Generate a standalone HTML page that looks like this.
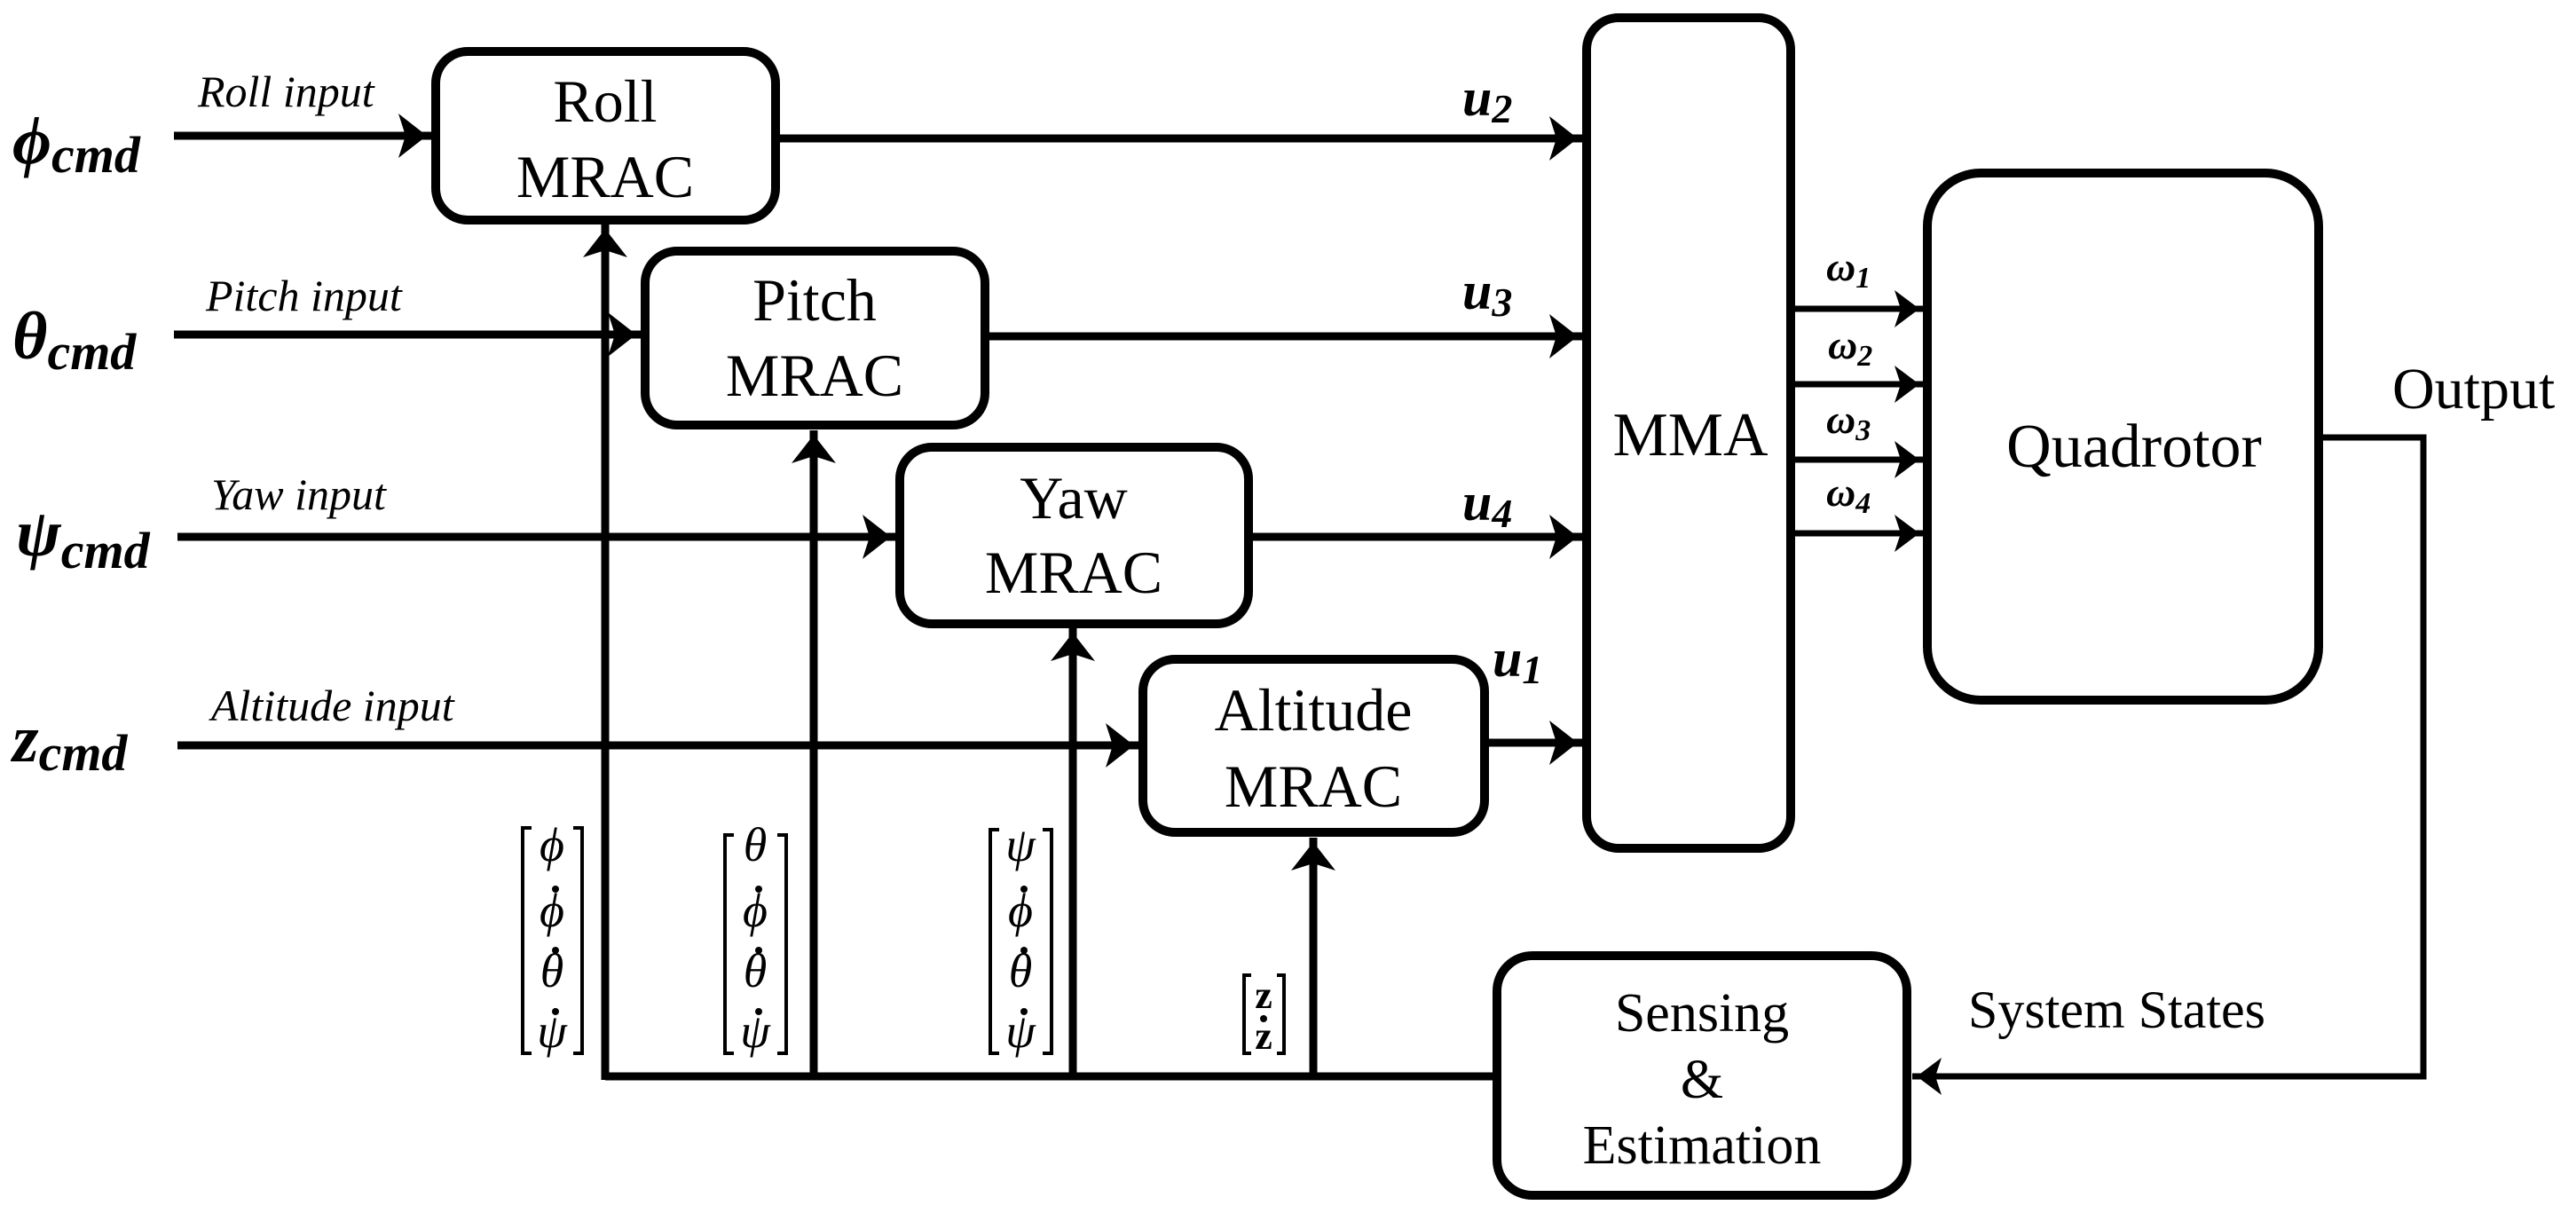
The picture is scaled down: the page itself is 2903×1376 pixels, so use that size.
<!DOCTYPE html>
<html><head><meta charset="utf-8"><style>
html,body{margin:0;padding:0;background:#fff;}
svg{display:block;}
</style></head><body>
<svg width="2903" height="1376" viewBox="0 0 2903 1376" xmlns="http://www.w3.org/2000/svg" font-family="'Liberation Serif','DejaVu Serif',serif">
<defs>
<marker id="a" markerWidth="10" markerHeight="10" refX="9" refY="5" orient="auto" markerUnits="userSpaceOnUse" viewBox="0 0 10 10" style="overflow:visible">
<path d="M-28,-20 L4,5 L-28,30 L-20,5 Z" fill="#000"/>
</marker>
<marker id="s" markerWidth="10" markerHeight="10" refX="9" refY="5" orient="auto" markerUnits="userSpaceOnUse" viewBox="0 0 10 10" style="overflow:visible">
<path d="M-24,-16 L4,5 L-24,26 L-17,5 Z" fill="#000"/>
</marker>
</defs>
<g fill="none" stroke="#000" stroke-width="10">
<rect x="491" y="58" width="383" height="190" rx="36"/>
<rect x="727" y="283" width="383" height="196" rx="36"/>
<rect x="1014" y="504" width="393" height="199" rx="36"/>
<rect x="1288" y="743" width="385" height="195" rx="36"/>
<rect x="1788" y="20" width="230" height="936" rx="36"/>
<rect x="2172" y="195" width="441" height="594" rx="60"/>
<rect x="1687" y="1077" width="462" height="270" rx="40"/>
</g>
<g fill="none" stroke="#000" stroke-width="9">
<line x1="196" y1="153" x2="486" y2="153" marker-end="url(#a)"/>
<line x1="196" y1="377" x2="722" y2="377" marker-end="url(#a)"/>
<line x1="200" y1="605" x2="1009" y2="605" marker-end="url(#a)"/>
<line x1="200" y1="840" x2="1283" y2="840" marker-end="url(#a)"/>
<line x1="874" y1="156" x2="1783" y2="156" marker-end="url(#a)"/>
<line x1="1110" y1="379" x2="1783" y2="379" marker-end="url(#a)"/>
<line x1="1407" y1="605" x2="1783" y2="605" marker-end="url(#a)"/>
<line x1="1673" y1="837" x2="1783" y2="837" marker-end="url(#a)"/>
<polyline points="682,1213 1687,1213"/>
<line x1="682" y1="1217" x2="682" y2="253" marker-end="url(#a)"/>
<line x1="917" y1="1213" x2="917" y2="485" marker-end="url(#a)"/>
<line x1="1209" y1="1213" x2="1209" y2="708" marker-end="url(#a)"/>
<line x1="1480" y1="1213" x2="1480" y2="944" marker-end="url(#a)"/>
</g>
<g fill="none" stroke="#000" stroke-width="7">
<line x1="2018" y1="348" x2="2168" y2="348" marker-end="url(#s)"/>
<line x1="2018" y1="433" x2="2168" y2="433" marker-end="url(#s)"/>
<line x1="2018" y1="518" x2="2168" y2="518" marker-end="url(#s)"/>
<line x1="2018" y1="601" x2="2168" y2="601" marker-end="url(#s)"/>
<polyline points="2613,493 2731,493 2731,1213 2155,1213" marker-end="url(#s)"/>
</g>
<g fill="#000" font-size="68" text-anchor="middle">
<text x="682" y="137">Roll</text><text x="682" y="222">MRAC</text>
<text x="918" y="361">Pitch</text><text x="918" y="446">MRAC</text>
<text x="1210" y="584">Yaw</text><text x="1210" y="668">MRAC</text>
<text x="1480" y="823">Altitude</text><text x="1480" y="909">MRAC</text>
<text x="1905" y="513" font-size="70">MMA</text>
<text x="2405" y="526" font-size="70">Quadrotor</text>
<text x="1918" y="1162" font-size="62">Sensing</text>
<text x="1918" y="1237" font-size="62">&amp;</text>
<text x="1918" y="1311" font-size="62">Estimation</text>
</g>
<g fill="#000">
<text x="2696" y="460" font-size="66">Output</text>
<text x="2218" y="1158" font-size="60">System States</text>
</g>
<g fill="#000" font-style="italic" font-size="50">
<text x="223" y="120">Roll input</text>
<text x="232" y="350">Pitch input</text>
<text x="238" y="574">Yaw input</text>
<text x="238" y="812">Altitude input</text>
</g>
<g fill="#000" font-style="italic" font-weight="bold">
<text x="14" y="184" font-size="76">ϕ<tspan font-size="58" dy="10">cmd</tspan></text>
<text x="14" y="404" font-size="76">θ<tspan font-size="58" dy="12">cmd</tspan></text>
<text x="18" y="626" font-size="76">ψ<tspan font-size="58" dy="14">cmd</tspan></text>
<text x="14" y="858" font-size="76">z<tspan font-size="58" dy="10">cmd</tspan></text>
<text x="1648" y="130" font-size="60">u<tspan font-size="46" dy="8">2</tspan></text>
<text x="1648" y="348" font-size="60">u<tspan font-size="46" dy="8">3</tspan></text>
<text x="1648" y="586" font-size="60">u<tspan font-size="46" dy="8">4</tspan></text>
<text x="1682" y="762" font-size="60">u<tspan font-size="46" dy="8">1</tspan></text>
<text x="2058" y="316" font-size="46">ω<tspan font-size="34" dy="8">1</tspan></text>
<text x="2060" y="404" font-size="46">ω<tspan font-size="34" dy="8">2</tspan></text>
<text x="2058" y="488" font-size="46">ω<tspan font-size="34" dy="8">3</tspan></text>
<text x="2058" y="570" font-size="46">ω<tspan font-size="34" dy="8">4</tspan></text>
</g>
<g fill="none" stroke="#000" stroke-width="4">
<path d="M599,933 H589 V1187 H599"/><path d="M646,933 H656 V1187 H646"/>
<path d="M827,941 H817 V1187 H827"/><path d="M876,941 H886 V1187 H876"/>
<path d="M1126,935 H1116 V1187 H1126"/><path d="M1175,935 H1185 V1187 H1175"/>
<path d="M1410,1099 H1402 V1187 H1410"/><path d="M1439,1099 H1447 V1187 H1439"/>
</g>
<g fill="#000" font-style="italic" font-size="54" text-anchor="middle">
<text x="622" y="970">ϕ</text><text x="622" y="1044">ϕ</text><text x="622" y="1112">θ</text><text x="622" y="1180">ψ</text>
<text x="851" y="970">θ</text><text x="851" y="1044">ϕ</text><text x="851" y="1112">θ</text><text x="851" y="1180">ψ</text>
<text x="1150" y="970">ψ</text><text x="1150" y="1044">ϕ</text><text x="1150" y="1112">θ</text><text x="1150" y="1180">ψ</text>
</g>
<g fill="#000">
<circle cx="626" cy="1002" r="4"/><circle cx="626" cy="1071" r="4"/><circle cx="626" cy="1140" r="4"/>
<circle cx="855" cy="1002" r="4"/><circle cx="855" cy="1071" r="4"/><circle cx="855" cy="1140" r="4"/>
<circle cx="1154" cy="1002" r="4"/><circle cx="1154" cy="1071" r="4"/><circle cx="1154" cy="1140" r="4"/>
<text x="1424" y="1136" font-size="44" font-weight="bold" text-anchor="middle">z</text>
<text x="1424" y="1182" font-size="44" font-weight="bold" text-anchor="middle">z</text>
<circle cx="1424" cy="1148" r="4"/>
</g>
</svg>
</body></html>
